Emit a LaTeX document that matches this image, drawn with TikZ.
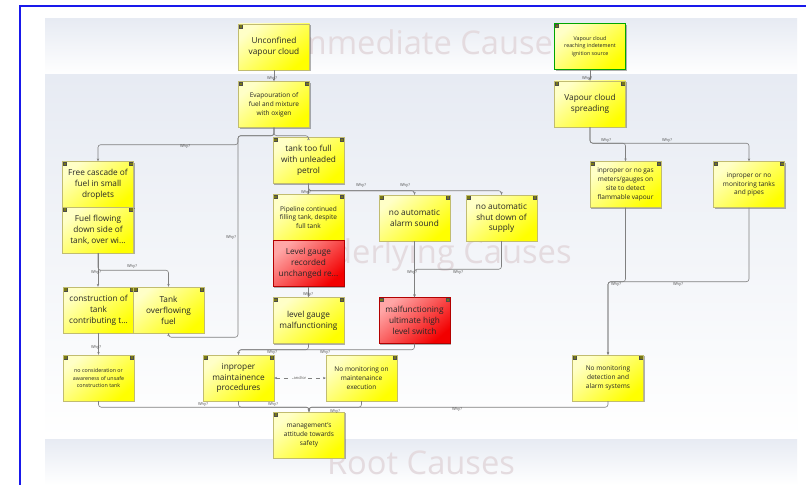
\documentclass[tikz,border=0pt]{standalone}
\usepackage{fontspec}
\setmainfont{Open Sans}
\usetikzlibrary{arrows.meta,shadows}

\definecolor{wmark}{RGB}{228,219,223}
\definecolor{bandtop}{RGB}{231,235,243}
\definecolor{linegrey}{RGB}{128,128,128}
\definecolor{tagolive}{RGB}{120,120,20}
\definecolor{frameblue}{RGB}{25,25,235}

\tikzset{
  note/.style={rectangle, draw=yellow!60!black!70, line width=.3pt,
    minimum width=53.25pt, minimum height=34.5pt, inner sep=1pt, align=center,
    top color=yellow!22!white, bottom color=yellow, shading angle=40,
    text=black!85,
    drop shadow={shadow xshift=.9pt, shadow yshift=-.9pt, opacity=.3, fill=black}},
  rednote/.style={note, draw=red!70!black, top color=red!35!white, bottom color=red!95!black,
    shading angle=40},
  tagboth/.style={path picture={
    \draw[fill=tagolive, draw=black!70, line width=.2pt]
      ([xshift=.4pt,yshift=-.4pt]path picture bounding box.north west) rectangle ++(2.6pt,-2.6pt)
      ([xshift=-.4pt,yshift=-.4pt]path picture bounding box.north east) rectangle ++(-2.6pt,-2.6pt);}},
  tagleft/.style={path picture={
    \draw[fill=tagolive, draw=black!70, line width=.2pt]
      ([xshift=.4pt,yshift=-.4pt]path picture bounding box.north west) rectangle ++(2.6pt,-2.6pt);}},
  tagright/.style={path picture={
    \draw[fill=tagolive, draw=black!70, line width=.2pt]
      ([xshift=-.4pt,yshift=-.4pt]path picture bounding box.north east) rectangle ++(-2.6pt,-2.6pt);}},
  txtl/.style={font=\fontsize{6.2}{8.2}\selectfont},
  txtm/.style={font=\fontsize{4.9}{6.6}\selectfont},
  txts/.style={font=\fontsize{4}{5.6}\selectfont},
}

\begin{document}
\begin{tikzpicture}[x=0.75pt,y=-0.75pt,
    why/.style={draw=linegrey, line width=.45pt, rounded corners=2pt,
      -{Stealth[length=2.2pt,width=1.8pt]}},
    whyl/.style={font=\fontsize{3}{3.5}\selectfont, text=black!70, inner sep=0pt},
    band/.style={top color=bandtop, bottom color=white, draw=none},
    wm/.style={font=\fontsize{24.5}{26}\selectfont, text=wmark}]
  \useasboundingbox (0,0) rectangle (806,485);
  \fill[white] (0,0) rectangle (806,485);
  % bands
  \shade[band] (45,19) rectangle (797,75);
  \shade[band] (45,75) rectangle (797,439);
  \shade[band] (45,439) rectangle (797,485);
  \node[wm] (wmtop) at (428,42) {Immediate Causes};
  \node[wm] (wmmid) at (430,255) {Underlying Causes};
  \node[wm] (wmbot) at (421,463) {Root Causes};
  \draw[frameblue, line width=1.5pt] (806,6) -- (20,6) -- (20,485);

  % immediate causes
  \node[note,tagleft,txtl] (uvc) at (274,47) {Unconfined\\vapour cloud};
  \node[note,tagleft,txts,draw=green!65!black,line width=.6pt] (reach) at (590,46.5) {Vapour cloud\\reaching indetement\\ignition source};

  % underlying causes
  \node[note,tagboth,txtm] (evap) at (274,104.5) {Evapouration of\\fuel and mixture\\with oxigen};
  \node[note,tagboth,txtl] (spread) at (590,104) {Vapour cloud\\spreading};
  \node[note,tagboth,txtl] (tank) at (308.5,160.5) {tank too full\\with unleaded\\petrol};
  \node[note,tagboth,txtl] (casc) at (98,184.5) {Free cascade of\\fuel in small\\droplets};
  \node[note,tagboth,txtl] (flow) at (98,230) {Fuel flowing\\down side of\\tank, over wi...};
  \node[note,tagboth,txtl] (constr) at (98.5,310) {construction of\\tank\\contributing t...};
  \node[note,tagboth,txtl] (over) at (168.5,310) {Tank\\overflowing\\fuel};
  \node[note,tagboth,txtm] (pipe) at (308.5,217.5) {Pipeline continued\\filling tank, despite\\full tank};
  \node[rednote,txtl] (gauge) at (308.5,263.5) {Level gauge\\recorded\\unchanged re...};
  \node[note,tagboth,txtl] (alarm) at (414.5,218) {no automatic\\alarm sound};
  \node[note,tagboth,txtl] (shut) at (501.5,218) {no automatic\\shut down of\\supply};
  \node[note,tagboth,txtl] (lgm) at (308.5,320.5) {level gauge\\malfunctioning};
  \node[rednote,tagboth,txtl] (switch) at (414.5,320.5) {malfunctioning\\ultimate high\\level switch};
  \node[note,tagboth,txtm] (gas) at (625.5,184.5) {inproper or no gas\\meters/gauges on\\site to detect\\flammable vapour};
  \node[note,tagboth,txtm] (montank) at (749,184.5) {inproper or no\\monitoring tanks\\and pipes};
  \node[note,tagboth,txts] (consid) at (98.5,378) {no consideration or\\awareness of unsafe\\construction tank};
  \node[note,tagboth,txtl] (maint) at (238.5,378) {inproper\\maintainence\\procedures};
  \node[note,tagright,txtm] (monexec) at (361.5,378) {No monitoring on\\maintenaince\\execution};
  \node[note,tagboth,txtm] (detect) at (608,378) {No monitoring\\detection and\\alarm systems};

  % root causes
  \node[note,tagleft,txtm] (mgmt) at (309,435) {management's\\attitude towards\\safety};

  % connectors
  \draw[why] (uvc.south) -- (evap.north);
  \draw[why] (reach.south) -- (spread.north);
  \draw[why] (evap.south) -- ++(0,8) -| (tank.north);
  \draw[why] (evap.south) -- ++(0,8) -- ++(-36,0) -- ++(0,9) -| (casc.north);
  \draw[why] (evap.south) -- ++(0,8) -- ++(-36,0) |- ([yshift=-3pt]over.south) -- (over.south);
  \draw[why] (tank.south) -- (pipe.north);
  \draw[why] (tank.south) -- ++(0,7) -| (alarm.north);
  \draw[why] (tank.south) -- ++(0,7) -| (shut.north);
  \draw[why] (flow.south) -- (flow.south |- constr.north);
  \draw[why] (flow.south) -- ++(0,17) -| (over.north);
  \draw[why] (gauge.south) -- (lgm.north);
  \draw[why] (alarm.south) -- (switch.north);
  \draw[why] (shut.south) -- ++(0,28) -| (switch.north);
  \draw[why] (constr.south) -- (constr.south |- consid.north);
  \draw[why] (lgm.south) -- ++(0,6) -| (maint.north);
  \draw[why] (switch.south) -- ++(0,6) -| (maint.north);
  \draw[why] (spread.south) -- ++(0,16) -| (gas.north);
  \draw[why] (spread.south) -- ++(0,16) -| (montank.north);
  \draw[why] (gas.south) -- ++(0,74) -| (detect.north);
  \draw[why] (montank.south) -- ++(0,74) -| (detect.north);
  \foreach \n in {consid,maint,monexec,detect}
    \draw[why] (\n.south) -- ++(0,6) -| (mgmt.north);
  \draw[why, dashed, {Stealth[length=2.2pt,width=1.8pt]}-{Stealth[length=2.2pt,width=1.8pt]}]
    (maint.east) -- node[whyl, fill=white, inner xsep=1pt] (andor) {and/or} (monexec.west);

  % why? labels
  \foreach \p [count=\i] in {(272,78),(587,78),(185,146),(231,237),(306,192),(361,185),
      (405,185),(132,266),(96,272),(308,294),(412,272),(458,272),(96,347),(272,352),
      (325,352),(606,140),(667,140),(616,284),(678,284),(203,404),(273,404),(335,411),(457,409)}
    \node[whyl] (why\i) at \p {Why?};
\end{tikzpicture}
\end{document}
